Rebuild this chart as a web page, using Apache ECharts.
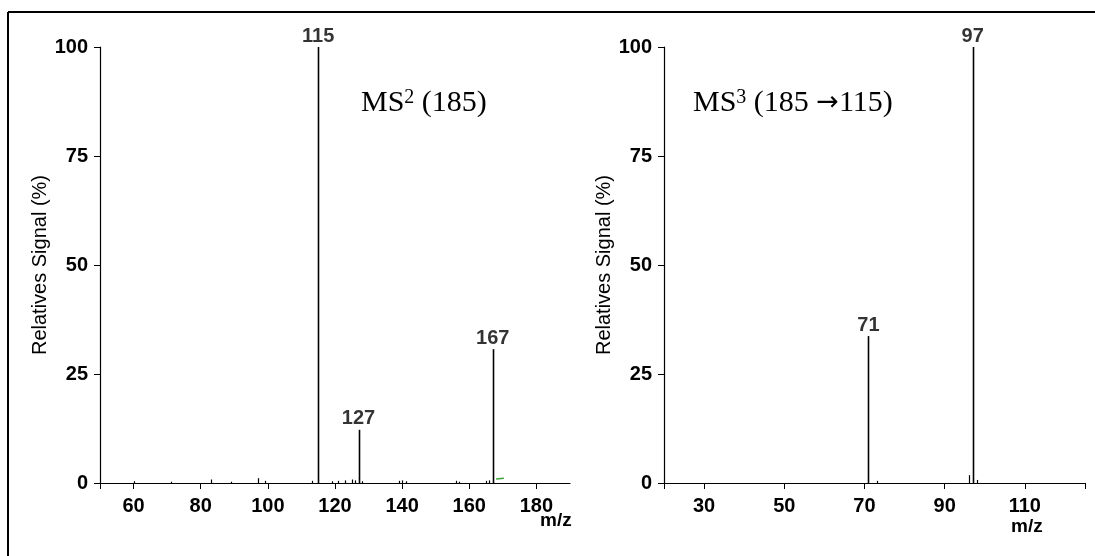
<!DOCTYPE html>
<html>
<head>
<meta charset="utf-8">
<script src="https://cdn.jsdelivr.net/npm/echarts@6/dist/echarts.min.js"></script>
<style>
html,body{margin:0;padding:0;background:#fff;}
#chart{width:1095px;height:556px;}
</style>
</head>
<body>
<div id="chart"></div>
<script>
// ---- Data: MS2 (185) ----
const ms2Mz =     [60, 71, 83, 89, 97, 99, 113, 115, 119, 121, 123, 125, 126, 127, 128, 139, 140, 141, 156, 157, 165, 166, 167];
const ms2Signal = [0.4, 0.3, 0.8, 0.3, 1.1, 0.5, 0.5, 100, 0.4, 0.5, 0.6, 0.8, 0.6, 12.2, 0.4, 0.5, 0.6, 0.4, 0.5, 0.3, 0.5, 0.6, 30.7];
const ms2Labelled = [115, 127, 167];
const ms2GreenMz = [168.0, 170.3];
const ms2GreenSignal = [0.9, 1.1];

// ---- Data: MS3 (185 -> 115) ----
const ms3Mz =     [71, 73, 96, 97, 98];
const ms3Signal = [33.7, 0.5, 1.8, 100, 0.7];
const ms3Labelled = [71, 97];

// ---- Axis ticks ----
const ms2XTicks = [50, 60, 80, 100, 120, 140, 160, 180];
const ms2XLabels = [60, 80, 100, 120, 140, 160, 180];
const ms3XTicks = [20, 30, 50, 70, 90, 110, 125];
const ms3XLabels = [30, 50, 70, 90, 110];

const BASE = 'Liberation Sans, Arial, sans-serif';
const SERIF = 'Liberation Serif, Times New Roman, serif';

function pairs(xs, ys){ return xs.map((x,i)=>[x, ys[i]]); }

function stickSeries(idx, xs, ys){
  return {
    type: 'custom',
    xAxisIndex: idx, yAxisIndex: idx,
    data: pairs(xs, ys),
    renderItem: function(params, api){
      const x = api.value(0), y = api.value(1);
      const p0 = api.coord([x, 0]);
      const p1 = api.coord([x, y]);
      const w = y > 5 ? 1.6 : 1.2;
      return {
        type: 'line',
        shape: {x1: Math.round(p0[0]) + 0.5, y1: p0[1], x2: Math.round(p1[0]) + 0.5, y2: p1[1]},
        style: {stroke: '#000', lineWidth: w}
      };
    },
    silent: true, z: 3
  };
}

function labelSeries(idx, xs, ys, labelled){
  const d = [];
  xs.forEach((x,i)=>{ if (labelled.indexOf(x) >= 0) d.push([x, ys[i]]); });
  return {
    type: 'scatter', xAxisIndex: idx, yAxisIndex: idx,
    symbolSize: 0, data: d, silent: true,
    label: {
      show: true, position: 'top', distance: 1,
      formatter: p => String(p.value[0]),
      color: '#000', fontFamily: BASE, fontSize: 20, fontWeight: 'bold'
    }
  };
}

function xAxis(idx, min, max, ticks, labels){
  return {
    type: 'value', gridIndex: idx, min: min, max: max,
    axisLine: {show: true, onZero: false, lineStyle: {color: '#000', width: 1.2}},
    axisTick: {show: true, length: 6, customValues: ticks, lineStyle: {color: '#000', width: 1}},
    axisLabel: {show: true, customValues: labels, margin: 13, color: '#000', fontFamily: BASE, fontSize: 20, fontWeight: 'bold'},
    splitLine: {show: false}
  };
}

function yAxis(idx){
  return {
    type: 'value', gridIndex: idx, min: 0, max: 100, interval: 25,
    name: 'Relatives Signal (%)', nameLocation: 'middle', nameGap: 40,
    nameTextStyle: {color: '#000', fontFamily: BASE, fontSize: 20},
    axisLine: {show: true, lineStyle: {color: '#000', width: 1.2}},
    axisTick: {show: true, length: 6, lineStyle: {color: '#000', width: 1}},
    axisLabel: {margin: 12, color: '#000', fontFamily: BASE, fontSize: 20, fontWeight: 'bold'},
    splitLine: {show: false}
  };
}

const chart = echarts.init(document.getElementById('chart'), null, {renderer: 'canvas'});
chart.setOption({
  backgroundColor: '#fff',
  animation: false,
  grid: [
    {left: 100, right: 525, top: 47, bottom: 73},
    {left: 664, right: 10, top: 47, bottom: 73}
  ],
  xAxis: [
    xAxis(0, 50, 190, ms2XTicks, ms2XLabels),
    xAxis(1, 20, 125, ms3XTicks, ms3XLabels)
  ],
  yAxis: [yAxis(0), yAxis(1)],
  series: [
    stickSeries(0, ms2Mz, ms2Signal),
    labelSeries(0, ms2Mz, ms2Signal, ms2Labelled),
    {
      type: 'line', xAxisIndex: 0, yAxisIndex: 0, symbol: 'none', silent: true,
      data: pairs(ms2GreenMz, ms2GreenSignal),
      lineStyle: {color: '#3aa53a', width: 1.5}, z: 2
    },
    stickSeries(1, ms3Mz, ms3Signal),
    labelSeries(1, ms3Mz, ms3Signal, ms3Labelled)
  ],
  graphic: [
    {type: 'line', shape: {x1: 8, y1: 12, x2: 1095, y2: 12}, style: {stroke: '#000', lineWidth: 2}},
    {type: 'line', shape: {x1: 8, y1: 12, x2: 8, y2: 556}, style: {stroke: '#000', lineWidth: 2}},
    {type: 'text', left: 540, top: 511, style: {text: 'm/z', fill: '#000', font: 'bold 19px ' + BASE}},
    {type: 'text', left: 1011, top: 517, style: {text: 'm/z', fill: '#000', font: 'bold 19px ' + BASE}},
    {type: 'text', left: 361, top: 88, style: {
      rich: {
        m: {fontFamily: SERIF, fontSize: 30, color: '#000'},
        s: {fontFamily: SERIF, fontSize: 20, verticalAlign: 'top', color: '#000', padding: [0,0,9,0]}
      },
      text: '{m|MS}{s|2}{m| (185)}'
    }},
    {type: 'text', left: 693, top: 88, style: {
      rich: {
        m: {fontFamily: SERIF, fontSize: 30, color: '#000'},
        a: {fontFamily: 'DejaVu Sans', fontSize: 27, color: '#000'},
        s: {fontFamily: SERIF, fontSize: 20, verticalAlign: 'top', color: '#000', padding: [0,0,9,0]}
      },
      text: '{m|MS}{s|3}{m| (185 }{a|\u2192}{m|115)}'
    }}
  ]
});
</script>
</body>
</html>
